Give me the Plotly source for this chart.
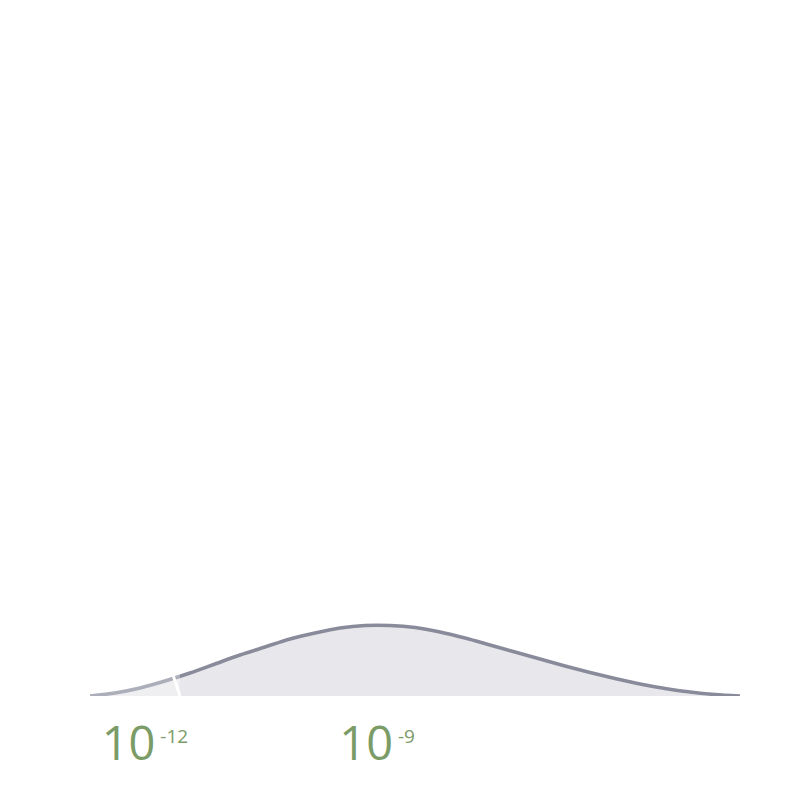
import plotly.graph_objects as go

# log10 positions and density heights
log_x = [-12.71, -12.387, -12.064, -11.741, -11.418, -11.094, -10.771, -10.448,
         -10.125, -9.802, -9.479, -9.156, -8.833, -8.510, -8.187, -7.864, -7.541,
         -7.218, -6.895, -6.571, -6.248, -5.925, -5.602, -5.279, -4.956, -4.633,
         -4.31]
density = [0, 3, 8, 15, 23, 32, 41, 49, 57, 63, 68, 70.5, 70.5, 68.5, 64, 58, 51,
           44, 37, 30, 23.5, 17.5, 12, 7.5, 4, 1.5, 0]

tick_vals = [1e-12, 1e-9]
tick_text = ['<span style="font-size:47px">10</span><sup><span style="font-size:19px"> -12</span></sup>',
             '<span style="font-size:47px">10</span><sup><span style="font-size:19px"> -9</span></sup>']

cutoff_top = -11.637
cutoff_bottom = -11.547
cutoff_height = 21

x_range = [-12.71, -4.31]

xs = [10 ** v for v in log_x]

fig = go.Figure()
fig.add_trace(go.Scatter(
    x=xs, y=density, mode="lines",
    line=dict(color="#898b9b", width=3.6, shape="spline", smoothing=0.8),
    fill="tozeroy", fillcolor="#e8e8ec",
    hoverinfo="skip", showlegend=False,
))

fig.add_shape(type="rect", xref="x", yref="y",
              x0=10 ** x_range[0], x1=10 ** cutoff_bottom, y0=0, y1=30,
              fillcolor="rgba(255,255,255,0.3)", line=dict(width=0), layer="above")
fig.add_shape(type="line", xref="x", yref="y",
              x0=10 ** cutoff_top, y0=cutoff_height, x1=10 ** cutoff_bottom, y1=0,
              line=dict(color="white", width=3), layer="above")

fig.update_layout(
    width=800, height=800,
    margin=dict(l=82, r=68, t=20, b=112, autoexpand=False),
    paper_bgcolor="white", plot_bgcolor="white",
    font=dict(family="Open Sans", color="#7b9b67"),
    xaxis=dict(type="log", range=x_range, tickvals=tick_vals, ticktext=tick_text,
               showgrid=False, zeroline=False, showline=False, ticks="",
               automargin=False, ticklabelstandoff=23,
               tickfont=dict(size=40, color="#7b9b67", family="Open Sans")),
    yaxis=dict(range=[0, 668], visible=False, showgrid=False, zeroline=False),
)

fig.write_html("out.html")
